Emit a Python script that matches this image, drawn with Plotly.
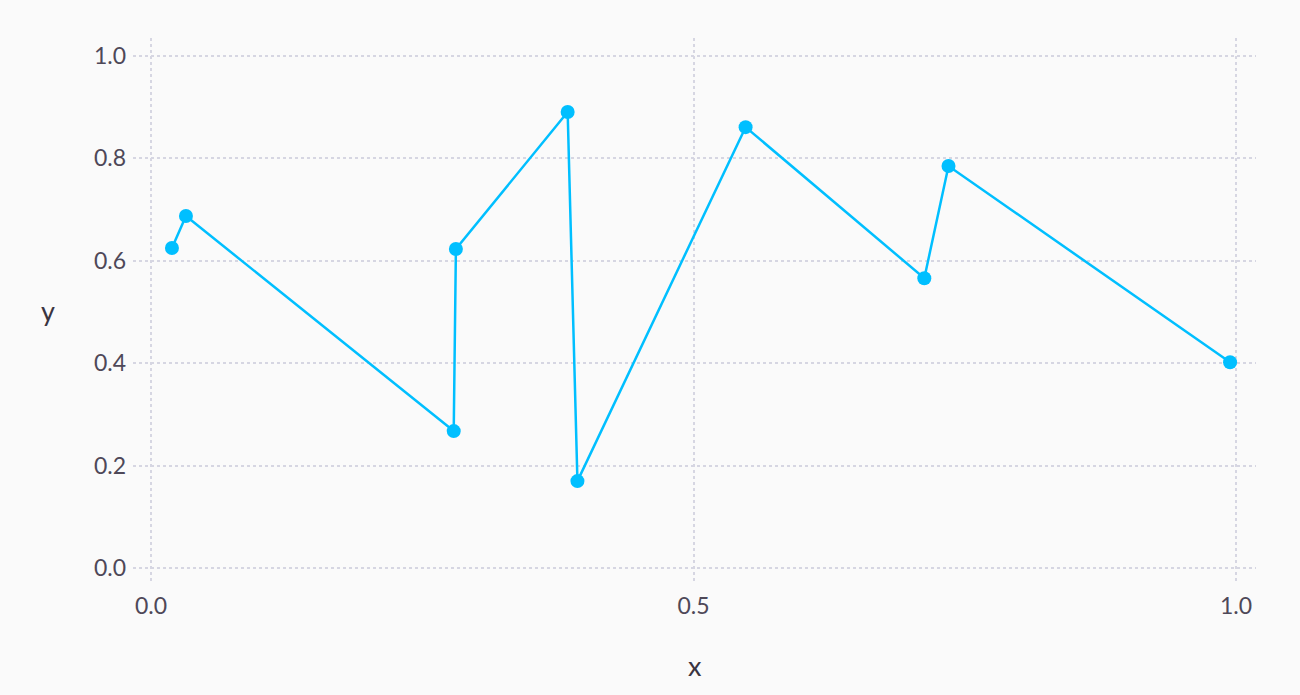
import plotly.graph_objects as go

x_vals = [0.0193, 0.0322, 0.279, 0.281, 0.384, 0.393, 0.548, 0.7127, 0.735, 0.9945]
y_vals = [0.625, 0.6875, 0.2676, 0.623, 0.8906, 0.170, 0.861, 0.566, 0.785, 0.402]
x_ticks = [0.0, 0.5, 1.0]
x_ticklabels = ["0.0", "0.5", "1.0"]
y_ticks = [0.0, 0.2, 0.4, 0.6, 0.8, 1.0]
y_ticklabels = ["0.0", "0.2", "0.4", "0.6", "0.8", "1.0"]

fig = go.Figure()
fig.add_trace(go.Scatter(
    x=x_vals, y=y_vals, mode="lines+markers",
    line=dict(color="#00bfff", width=2.5),
    marker=dict(color="#00bfff", size=14),
    showlegend=False,
))

grid = dict(showgrid=True, gridcolor="#d6d6e2", griddash="dot", gridwidth=1.5,
            zeroline=False, showline=False, ticks="",
            tickfont=dict(family="Lato", size=23, color="#4e4858"))

fig.update_layout(
    width=1300, height=695,
    paper_bgcolor="#fafafa", plot_bgcolor="#fafafa",
    margin=dict(l=133, r=44, t=38, b=113),
    xaxis=dict(range=[-0.0166, 1.0184], tickvals=x_ticks, ticktext=x_ticklabels,
               ticklabelstandoff=8, **grid),
    yaxis=dict(range=[-0.027, 1.035], tickvals=y_ticks, ticktext=y_ticklabels,
               ticklabelstandoff=6, **grid),
    annotations=[
        dict(text="x", x=0.5, y=0, xref="paper", yref="paper", xanchor="center", yanchor="middle",
             yshift=-83, showarrow=False, font=dict(family="Lato", size=27, color="#3a3440")),
        dict(text="y", x=0, y=0.5, xref="paper", yref="paper", xanchor="center", yanchor="middle",
             xshift=-85, showarrow=False, font=dict(family="Lato", size=27, color="#3a3440")),
    ],
)

fig.write_html("out.html", config={"displayModeBar": False},
               post_script="document.body.style.margin='0';document.body.style.background='#fafafa';")
